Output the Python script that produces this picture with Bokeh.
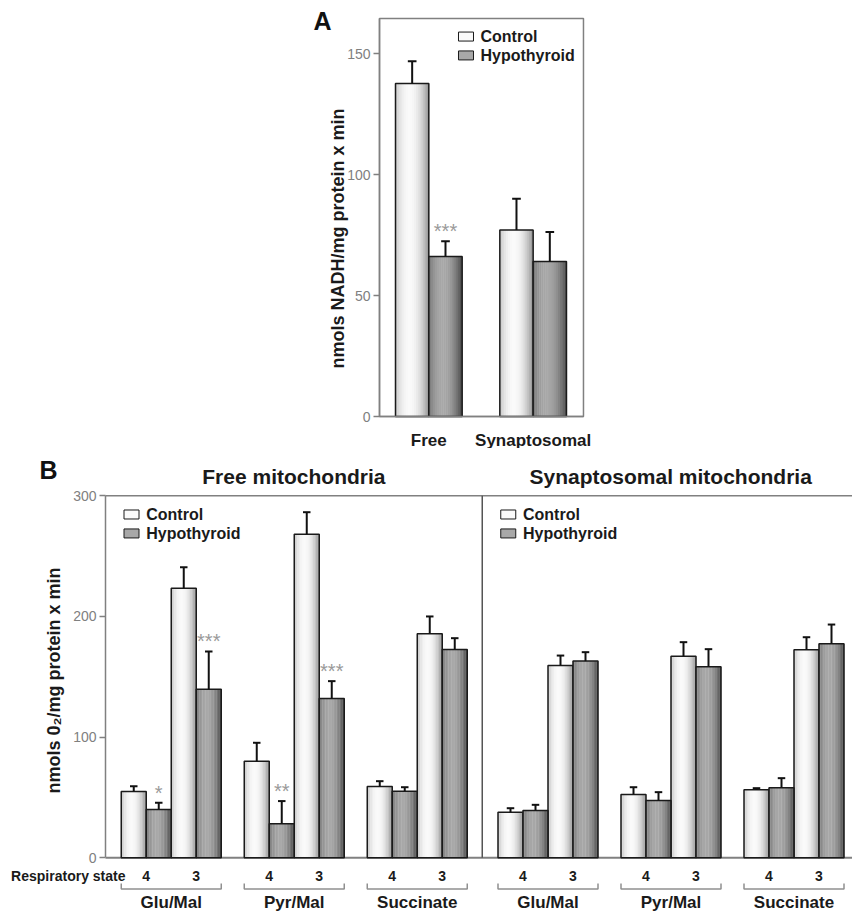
import math
from bokeh.plotting import figure
from bokeh.layouts import column
from bokeh.models import FixedTicker, Range1d
from bokeh.core.properties import value
from bokeh.embed import file_html
from bokeh.resources import INLINE

FONT = "Liberation Sans"

# ---------------- data ----------------
# Panel A
a_groups = ["Free", "Synaptosomal"]
a_control = [137.6, 77.1]
a_control_err = [9.2, 12.9]
a_hypo = [66.1, 64.0]
a_hypo_err = [6.3, 12.2]
a_hypo_sig = ["***", ""]
a_ticks = [0, 50, 100, 150]

# Panel B  (order: panel -> substrate -> respiratory state 4, 3)
b_panels = ["Free mitochondria", "Synaptosomal mitochondria"]
b_substrates = ["Glu/Mal", "Pyr/Mal", "Succinate"]
b_states = ["4", "3"]
b_control = [55.0, 223.4, 80.0, 268.2, 59.1, 185.6,
             37.8, 159.4, 52.5, 167.1, 56.3, 172.4]
b_control_err = [4.2, 17.4, 15.3, 18.2, 4.4, 14.4,
                 3.3, 8.2, 6.0, 11.6, 1.4, 10.4]
b_hypo = [40.0, 139.7, 28.2, 132.0, 55.2, 172.6,
          39.2, 163.0, 47.5, 158.3, 58.0, 177.3]
b_hypo_err = [5.6, 31.3, 18.8, 14.4, 3.3, 9.4,
              4.7, 7.4, 6.9, 14.6, 8.0, 16.0]
b_hypo_sig = ["*", "***", "**", "***", "", "",
              "", "", "", "", "", ""]
b_ticks = [0, 100, 200, 300]
series = ["Control", "Hypothyroid"]

# ---------------- styling helpers ----------------
AX_COL = "#808080"
TXT = "#1a1a1a"
K = 16
FIG_W = 852
PAGE0 = 0
STAR_OFFSET = -10


def shade(lo, hi, t):
    v = lo + (hi - lo) * max(0.0, 1 - ((t - 0.42) / 0.6) ** 2)
    v = int(round(v))
    return "#%02x%02x%02x" % (v, v, v)


CTRL_SHADE = (140, 250)
HYPO_SHADE = (66, 168)


def draw_bars(p, xs, tops, errs, shade_lim, cap):
    for k in range(K):
        t = (k + 0.5) / K
        p.vbar(x=[x - 0.5 + t for x in xs], top=tops, bottom=0, width=1.0 / K + 0.012,
               fill_color=shade(shade_lim[0], shade_lim[1], t), line_color=None)
    p.vbar(x=xs, top=tops, bottom=0, width=1.0, fill_color=None,
           line_color=TXT, line_width=1.5)
    ends = [t + e for t, e in zip(tops, errs)]
    p.segment(x0=xs, y0=tops, x1=xs, y1=ends, line_color="#111111", line_width=2)
    p.segment(x0=[x - cap for x in xs], y0=ends, x1=[x + cap for x in xs], y1=ends,
              line_color="#111111", line_width=2)
    return ends


def draw_legend(p, bx, tx, ys, size_px):
    cols = [shade(*CTRL_SHADE, 0.45), shade(*HYPO_SHADE, 0.45)]
    p.rect(x=[bx] * 2, y=ys, width=15, height=9, width_units="screen",
           height_units="screen", fill_color=cols, line_color=TXT, line_width=1)
    p.text(x=[tx] * 2, y=ys, text=series, text_font=value(FONT),
           text_font_style="bold", text_font_size=size_px, text_baseline="middle",
           text_align="left", text_color=TXT)


def style_axis(ax, ticks, bounds):
    ax.ticker = FixedTicker(ticks=ticks, minor_ticks=[])
    ax.bounds = bounds
    ax.major_label_text_color = AX_COL
    ax.major_label_text_font = FONT
    ax.major_label_text_font_size = "14px"
    ax.major_tick_out = 6
    ax.major_tick_in = 0
    ax.major_label_standoff = 3
    ax.axis_line_color = AX_COL
    ax.axis_line_width = 1.5
    ax.major_tick_line_color = AX_COL
    ax.major_tick_line_width = 1.5


# ---------------- Panel A ----------------
# page geometry: plot box x 379..583, y 18..416 ; 33.33 px per bar, 2.42 px per unit
A_PX, A_PY = 33.33, 2.42
A_X0, A_Y0 = 379, 416
A_TOP = 164.5
A_RIGHT = 6.12
A_H = 448
A_GSTEP = 3.13
A_G0 = 1.48
a_centers = [round(A_G0 + g * A_GSTEP, 2) for g in range(len(a_groups))]
a_cx = [c - 0.5 for c in a_centers]
a_hx = [c + 0.5 for c in a_centers]

pA = figure(width=FIG_W, height=A_H,
            x_range=Range1d((PAGE0 - A_X0) / A_PX, (PAGE0 + FIG_W - A_X0) / A_PX),
            y_range=Range1d((A_Y0 - PAGE0 - A_H) / A_PY, (A_Y0 - PAGE0) / A_PY),
            output_backend="svg", toolbar_location=None, min_border=0)
pA.xgrid.visible = False
pA.ygrid.visible = False
pA.outline_line_color = None
pA.background_fill_color = None
pA.border_fill_color = None

pA.quad(left=[0], right=[A_RIGHT], bottom=[0], top=[A_TOP], fill_color=None,
        line_color=AX_COL, line_width=1.5)
draw_bars(pA, a_cx, a_control, a_control_err, CTRL_SHADE, 0.13)
a_ends = draw_bars(pA, a_hx, a_hypo, a_hypo_err, HYPO_SHADE, 0.13)
pA.text(x=a_hx, y=a_ends, text=a_hypo_sig, y_offset=STAR_OFFSET, text_align="center",
        text_baseline="middle", text_color="#9a9a9a", text_font=value(FONT),
        text_font_size="20px")
draw_legend(pA, 2.595, 3.03, [157.0, 149.2], "16px")

ya = pA.yaxis[0]
ya.fixed_location = 0
style_axis(ya, a_ticks, (0, A_TOP))

xa = pA.xaxis[0]
xa.fixed_location = 0
style_axis(xa, a_centers, (0, A_RIGHT))
xa.major_label_overrides = {c: g for c, g in zip(a_centers, a_groups)}
xa.major_label_text_font_style = "bold"
xa.major_label_text_font_size = "17px"
xa.major_label_text_color = TXT
xa.major_label_standoff = 8
xa.major_tick_line_color = None

pA.text(x=[-1.71], y=[163.6], text=["A"], text_font=value(FONT), text_font_style="bold",
        text_font_size="25px", text_align="center", text_baseline="middle",
        text_color="#111111")
pA.text(x=[-1.26], y=[73.6], text=["nmols NADH/mg protein x min"], angle=math.pi / 2,
        text_font=value(FONT), text_font_style="bold", text_font_size="18px",
        text_align="center", text_baseline="middle", text_color=TXT)

# ---------------- Panel B ----------------
# page geometry: axis at x 105, y=0 at 857.3, y=300 at 495 ; 25 px per bar
B_PX, B_PY = 25.0, 1.2067
B_X0, B_Y0 = 105, 857.3
B_TOP_PAGE = PAGE0 + A_H
B_H = 464
PANEL_W = 15.07
OFF = 0.63
GROUP_W = 4.92

b_left, b_pair, b_grp_left, b_grp_center, b_state_lab = [], [], [], [], []
for pi_ in range(len(b_panels)):
    for g in range(len(b_substrates)):
        gl = pi_ * PANEL_W + OFF + g * GROUP_W
        b_grp_left.append(gl)
        b_grp_center.append(gl + 2)
        for s in range(len(b_states)):
            left = gl + 2 * s
            b_left.append(left)
            b_pair.append(left + 1)
            b_state_lab.append(b_states[s])
b_cx = [l + 0.5 for l in b_left]
b_hx = [l + 1.5 for l in b_left]

pB = figure(width=FIG_W, height=B_H,
            x_range=Range1d((PAGE0 - B_X0) / B_PX, (PAGE0 + FIG_W - B_X0) / B_PX),
            y_range=Range1d((B_Y0 - B_TOP_PAGE - B_H) / B_PY, (B_Y0 - B_TOP_PAGE) / B_PY),
            x_axis_type=None, output_backend="svg", toolbar_location=None, min_border=0)
pB.xgrid.visible = False
pB.ygrid.visible = False
pB.outline_line_color = None
pB.background_fill_color = None
pB.border_fill_color = None

# frame lines: top, baseline, panel divider
x_end = PANEL_W * len(b_panels)
pB.segment(x0=[0, 0], y0=[300, 0], x1=[x_end, x_end], y1=[300, 0],
           line_color=AX_COL, line_width=[1.5, 2])
div_x = [PANEL_W * (i + 1) for i in range(len(b_panels) - 1)]
pB.segment(x0=div_x, y0=[0] * len(div_x), x1=div_x, y1=[300] * len(div_x),
           line_color="#555555", line_width=1.5)

draw_bars(pB, b_cx, b_control, b_control_err, CTRL_SHADE, 0.15)
b_ends = draw_bars(pB, b_hx, b_hypo, b_hypo_err, HYPO_SHADE, 0.15)
pB.text(x=b_hx, y=b_ends, text=b_hypo_sig, y_offset=STAR_OFFSET, text_align="center",
        text_baseline="middle", text_color="#9a9a9a", text_font=value(FONT),
        text_font_size="20px")

for pi_ in range(len(b_panels)):
    draw_legend(pB, pi_ * PANEL_W + 1.04, pi_ * PANEL_W + 1.63, [284.5, 268.8], "16px")
pB.text(x=[pi_ * PANEL_W + PANEL_W / 2 for pi_ in range(len(b_panels))], y=[316, 316],
        text=b_panels, text_font=value(FONT), text_font_style="bold", text_font_size="21px",
        text_align="center", text_baseline="middle", text_color=TXT)

# respiratory state labels, brackets, substrate names
STATE_Y = (B_Y0 - 875) / B_PY
BR_Y = (B_Y0 - 888.5) / B_PY
BR_TICK_Y = (B_Y0 - 883) / B_PY
NAME_Y = (B_Y0 - 902) / B_PY
pB.text(x=b_pair, y=[STATE_Y] * len(b_pair), text=b_state_lab, text_font=value(FONT),
        text_font_style="bold", text_font_size="14px", text_align="center",
        text_baseline="middle", text_color=TXT)
br_xs, br_ys = [], []
for gl in b_grp_left:
    br_xs.append([gl, gl, gl + 4, gl + 4])
    br_ys.append([BR_TICK_Y, BR_Y, BR_Y, BR_TICK_Y])
pB.multi_line(xs=br_xs, ys=br_ys, line_color="#909090", line_width=1.5)
pB.text(x=b_grp_center, y=[NAME_Y] * len(b_grp_center),
        text=b_substrates * len(b_panels), text_font=value(FONT), text_font_style="bold",
        text_font_size="17px", text_align="center", text_baseline="middle",
        text_color=TXT)

pB.text(x=[0.8], y=[STATE_Y], text=["Respiratory state"], text_font=value(FONT),
        text_font_style="bold", text_font_size="14px", text_align="right",
        text_baseline="middle", text_color=TXT)
pB.text(x=[-2.28], y=[321], text=["B"], text_font=value(FONT), text_font_style="bold",
        text_font_size="25px", text_align="center", text_baseline="middle",
        text_color="#111111")
pB.text(x=[-2.08], y=[146.9], text=["nmols 0\u2082/mg protein x min"], angle=math.pi / 2,
        text_font=value(FONT), text_font_style="bold", text_font_size="18px",
        text_align="center", text_baseline="middle", text_color=TXT)

yb = pB.yaxis[0]
yb.fixed_location = 0
style_axis(yb, b_ticks, (0, 300))

layout = column(pA, pB, spacing=0)
open("out.html", "w").write(file_html(layout, INLINE))
